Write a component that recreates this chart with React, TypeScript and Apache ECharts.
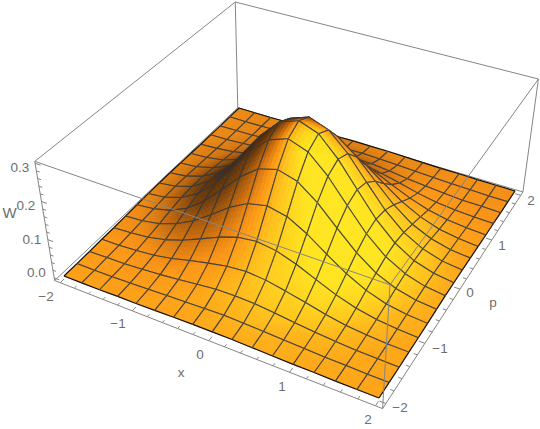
import React, { useEffect, useRef } from "react";
import * as echarts from "echarts";

// W(x, p); one row per p from -2 to 2, one column per x from -2 to 2, step 0.25
const rowPm200 = [0, 0, 0, 0.001, 0.001, 0.002, 0.003, 0.004, 0.004, 0.004, 0.003, 0.002, 0.001, 0.001, 0, 0, 0];
const rowPm175 = [0, 0, 0.001, 0.002, 0.004, 0.006, 0.008, 0.01, 0.011, 0.01, 0.008, 0.006, 0.004, 0.002, 0.001, 0, 0];
const rowPm150 = [0, 0.001, 0.002, 0.005, 0.009, 0.014, 0.02, 0.025, 0.026, 0.025, 0.02, 0.014, 0.009, 0.005, 0.002, 0.001, 0];
const rowPm125 = [0.001, 0.002, 0.005, 0.01, 0.019, 0.031, 0.042, 0.052, 0.056, 0.052, 0.042, 0.031, 0.019, 0.01, 0.005, 0.002, 0.001];
const rowPm100 = [0.001, 0.004, 0.009, 0.019, 0.035, 0.056, 0.078, 0.095, 0.102, 0.095, 0.078, 0.056, 0.035, 0.019, 0.009, 0.004, 0.001];
const rowPm075 = [0.002, 0.006, 0.014, 0.031, 0.056, 0.089, 0.125, 0.153, 0.164, 0.153, 0.125, 0.089, 0.056, 0.031, 0.014, 0.006, 0.002];
const rowPm050 = [0.003, 0.008, 0.02, 0.042, 0.078, 0.125, 0.175, 0.214, 0.229, 0.214, 0.175, 0.125, 0.078, 0.042, 0.02, 0.008, 0.003];
const rowPm025 = [0.004, 0.01, 0.025, 0.052, 0.095, 0.153, 0.214, 0.262, 0.281, 0.262, 0.214, 0.153, 0.095, 0.052, 0.025, 0.01, 0.004];
const rowP000 = [0.004, 0.011, 0.026, 0.056, 0.102, 0.164, 0.229, 0.281, 0.3, 0.281, 0.229, 0.164, 0.102, 0.056, 0.026, 0.011, 0.004];
const rowP025 = [0.004, 0.01, 0.025, 0.052, 0.095, 0.153, 0.214, 0.262, 0.281, 0.262, 0.214, 0.153, 0.095, 0.052, 0.025, 0.01, 0.004];
const rowP050 = [0.003, 0.008, 0.02, 0.042, 0.078, 0.125, 0.175, 0.214, 0.229, 0.214, 0.175, 0.125, 0.078, 0.042, 0.02, 0.008, 0.003];
const rowP075 = [0.002, 0.006, 0.014, 0.031, 0.056, 0.089, 0.125, 0.153, 0.164, 0.153, 0.125, 0.089, 0.056, 0.031, 0.014, 0.006, 0.002];
const rowP100 = [0.001, 0.004, 0.009, 0.019, 0.035, 0.056, 0.078, 0.095, 0.102, 0.095, 0.078, 0.056, 0.035, 0.019, 0.009, 0.004, 0.001];
const rowP125 = [0.001, 0.002, 0.005, 0.01, 0.019, 0.031, 0.042, 0.052, 0.056, 0.052, 0.042, 0.031, 0.019, 0.01, 0.005, 0.002, 0.001];
const rowP150 = [0, 0.001, 0.002, 0.005, 0.009, 0.014, 0.02, 0.025, 0.026, 0.025, 0.02, 0.014, 0.009, 0.005, 0.002, 0.001, 0];
const rowP175 = [0, 0, 0.001, 0.002, 0.004, 0.006, 0.008, 0.01, 0.011, 0.01, 0.008, 0.006, 0.004, 0.002, 0.001, 0, 0];
const rowP200 = [0, 0, 0, 0.001, 0.001, 0.002, 0.003, 0.004, 0.004, 0.004, 0.003, 0.002, 0.001, 0.001, 0, 0, 0];
const wRows = [rowPm200, rowPm175, rowPm150, rowPm125, rowPm100, rowPm075, rowPm050, rowPm025, rowP000, rowP025, rowP050, rowP075, rowP100, rowP125, rowP150, rowP175, rowP200];

const xTickLabels = ["\u22122", "\u22121", "0", "1", "2"];
const pTickLabels = ["\u22122", "\u22121", "0", "1", "2"];
const wTickLabels = ["0.0", "0.1", "0.2", "0.3"];

// Layout: label anchors on the page
const xLabelPos = [[46, 296], [118, 323], [200, 354], [282, 386], [368, 419]];
const pLabelPos = [[400, 407], [440, 348], [470, 292], [502, 245], [531, 200]];
const wLabelPos = [[36.5, 272], [32, 239], [26, 205], [20, 167]];

// Camera: unit-square homography of the z=0 plane and the image of the z axis at the corners
const H = { a: 273.3, b: 221.7, c: 64, d: 78.2, e: -146.9, f: 276, g: -0.11, h: 0.1955 };
const zVec = { A: [-19, -119], B: [7, -123.5], C: [15, -113], D: [-2.5, -106] };
const Z_MIN = -0.007;
const Z_MAX = 0.305;
const PAD = 0.02;
const PAD_BACK = 0.012;
const zSpan = 0.312;

function project(u: number, v: number, z: number): number[] {
  const den = H.g * u + H.h * v + 1;
  const bx = (H.a * u + H.b * v + H.c) / den;
  const by = (H.d * u + H.e * v + H.f) / den;
  const mix = (k: number) =>
    (1 - u) * (1 - v) * zVec.A[k] + u * (1 - v) * zVec.B[k] + u * v * zVec.C[k] + (1 - u) * v * zVec.D[k];
  return [bx + (mix(0) * z) / zSpan, by + (mix(1) * z) / zSpan];
}

const N = 16;
const SUB = 5;
const cr = (a: number, b: number, c: number, d: number, t: number) =>
  0.5 * (2 * b + (c - a) * t + (2 * a - 5 * b + 4 * c - d) * t * t + (3 * b - a - 3 * c + d) * t * t * t);
const at = (j: number, i: number) => wRows[Math.max(0, Math.min(N, j))][Math.max(0, Math.min(N, i))];
// smooth surface used for the shading only
function smooth(fi: number, fj: number): number {
  const i = Math.min(N - 1, Math.floor(fi));
  const j = Math.min(N - 1, Math.floor(fj));
  const s = fi - i;
  const t = fj - j;
  const row = (jj: number) => cr(at(jj, i - 1), at(jj, i), at(jj, i + 1), at(jj, i + 2), s);
  return cr(row(j - 1), row(j), row(j + 1), row(j + 2), t);
}
// faceted surface used for the geometry
function facet(fi: number, fj: number): number {
  const i = Math.min(N - 1, Math.floor(fi));
  const j = Math.min(N - 1, Math.floor(fj));
  const s = fi - i;
  const t = fj - j;
  return (1 - s) * (1 - t) * at(j, i) + s * (1 - t) * at(j, i + 1) + s * t * at(j + 1, i + 1) + (1 - s) * t * at(j + 1, i);
}

const VR = [0.879, 0.476, 0];
const VU = [-0.276, 0.51, 0.791];
const VW = [0.377, -0.696, 0.58];
const LIGHT = [0.45, 0.05, 0.89];
const stops: number[][] = [
  [-0.2, 75, 38, 6],
  [0.1, 115, 62, 10],
  [0.35, 195, 104, 13],
  [0.556, 252, 150, 22],
  [0.75, 255, 195, 28],
  [0.93, 255, 228, 32],
  [1.1, 255, 232, 34],
];
function shade(fi: number, fj: number): number {
  const h = 0.5;
  const zs = 0.4 / zSpan;
  const ia = Math.max(0, fi - h);
  const ib = Math.min(N, fi + h);
  const ja = Math.max(0, fj - h);
  const jb = Math.min(N, fj + h);
  const du = ((smooth(ib, fj) - smooth(ia, fj)) / ((ib - ia) / N)) * zs;
  const dv = ((smooth(fi, jb) - smooth(fi, ja)) / ((jb - ja) / N)) * zs;
  const len = Math.hypot(du, dv, 1);
  const n = [-du / len, -dv / len, 1 / len];
  const dot = (m: number[]) => m[0] * n[0] + m[1] * n[1] + m[2] * n[2];
  const gradient = 0.1 * (0.5 - fj / N) + 0.03 * (fi / N - 0.5);
  return dot(VR) * LIGHT[0] + dot(VU) * LIGHT[1] + dot(VW) * LIGHT[2] + gradient;
}
function ramp(b: number): string {
  let k = 0;
  while (k < stops.length - 2 && b > stops[k + 1][0]) k++;
  const p = stops[k];
  const q = stops[k + 1];
  const t = Math.max(0, Math.min(1, (b - p[0]) / (q[0] - p[0])));
  const c = [1, 2, 3].map((m) => Math.round(p[m] + (q[m] - p[m]) * t));
  return `rgb(${c[0]},${c[1]},${c[2]})`;
}

// fine lattice of the surface, built from wRows
const M = N * SUB;
const pts: number[][][] = [];
const bri: number[][] = [];
const hts: number[][] = [];
for (let j = 0; j <= M; j++) {
  pts.push([]);
  bri.push([]);
  hts.push([]);
  for (let i = 0; i <= M; i++) {
    const z = facet(i / SUB, j / SUB);
    hts[j].push(z);
    pts[j].push(project(i / M, j / M, z));
    bri[j].push(shade(i / SUB, j / SUB));
  }
}
const depth = (i: number, j: number) => VW[0] * (i / M) + VW[1] * (j / M) + VW[2] * (hts[j][i] * 0.4 / zSpan);

const cells: number[][] = [];
for (let j = 0; j < N; j++) for (let i = 0; i < N; i++) cells.push([i, j]);
const MID = Math.floor(SUB / 2);
cells.sort((a, b) => depth(a[0] * SUB + MID, a[1] * SUB + MID) - depth(b[0] * SUB + MID, b[1] * SUB + MID));

const MESH = "#33373c";
const LINE = "#858585";

function renderCell(_: any, api: any) {
  const ci = api.value(0);
  const cj = api.value(1);
  const i0 = ci * SUB;
  const j0 = cj * SUB;
  const quads: number[][] = [];
  for (let s = 0; s < SUB; s++) for (let t = 0; t < SUB; t++) quads.push([i0 + s, j0 + t]);
  quads.sort((a, b) => depth(a[0], a[1]) - depth(b[0], b[1]));
  const children: any[] = quads.map(([i, j]) => {
    const fill = ramp((bri[j][i] + bri[j][i + 1] + bri[j + 1][i] + bri[j + 1][i + 1]) / 4);
    return {
      type: "polygon",
      shape: { points: [pts[j][i], pts[j][i + 1], pts[j + 1][i + 1], pts[j + 1][i]].map((q) => api.coord(q)) },
      style: { fill, stroke: fill, lineWidth: 0.7 },
    };
  });
  const edge = (a: number[], b: number[], black: boolean) => {
    const p = api.coord(pts[a[1]][a[0]]);
    const q = api.coord(pts[b[1]][b[0]]);
    return {
      type: "line",
      shape: { x1: p[0], y1: p[1], x2: q[0], y2: q[1] },
      style: { fill: "none", stroke: black ? "#111111" : MESH, lineWidth: black ? 1.2 : 1.05, opacity: black ? 1 : 0.9 },
    };
  };
  children.push(edge([i0, j0], [i0 + SUB, j0], cj === 0));
  children.push(edge([i0, j0 + SUB], [i0 + SUB, j0 + SUB], cj === N - 1));
  children.push(edge([i0, j0], [i0, j0 + SUB], ci === 0));
  children.push(edge([i0 + SUB, j0], [i0 + SUB, j0 + SUB], ci === N - 1));
  return { type: "group", children };
}

// box corners in (u, v, z)
const lo = -PAD;
const hi = 1 + PAD;
const dLo = -PAD_BACK;
const dHi = 1 + PAD_BACK;
const corner: Record<string, number[]> = {
  A0: [lo, lo, Z_MIN], B0: [hi, lo, Z_MIN], C0: [hi, hi, Z_MIN], D0: [dLo, dHi, Z_MIN],
  A1: [lo, lo, Z_MAX], B1: [hi, lo, Z_MAX], C1: [hi, hi, Z_MAX], D1: [dLo, dHi, Z_MAX],
};
const backEdges = [["A0", "D0"], ["D0", "C0"], ["A0", "A1"], ["D0", "D1"], ["C0", "C1"], ["A1", "D1"], ["D1", "C1"]];
const frontEdges = [["A0", "B0"], ["B0", "C0"], ["B0", "B1"], ["A1", "B1"], ["B1", "C1"]];

const axisTicks = [-2, -1.8, -1.6, -1.4, -1.2, -1, -0.8, -0.6, -0.4, -0.2, 0, 0.2, 0.4, 0.6, 0.8, 1, 1.2, 1.4, 1.6, 1.8, 2];
const wTicks = [0, 0.02, 0.04, 0.06, 0.08, 0.1, 0.12, 0.14, 0.16, 0.18, 0.2, 0.22, 0.24, 0.26, 0.28, 0.3];

type Seg = number[][];
const toSeg = (a: number[], b: number[]): Seg => [project(a[0], a[1], a[2]), project(b[0], b[1], b[2])];
const backSegs: Seg[] = backEdges.map(([a, b]) => toSeg(corner[a], corner[b]));
const frontSegs: Seg[] = frontEdges.map(([a, b]) => toSeg(corner[a], corner[b]));
axisTicks.forEach((t) => {
  const len = Math.abs(t - Math.round(t)) < 1e-6 ? 0.018 : 0.011;
  const s = (t + 2) / 4;
  frontSegs.push(toSeg([s, lo, Z_MIN], [s, lo + len, Z_MIN]));
  frontSegs.push(toSeg([hi, s, Z_MIN], [hi - len, s, Z_MIN]));
});
wTicks.forEach((t, k) => {
  const len = k % 5 === 0 ? 0.018 : 0.011;
  backSegs.push(toSeg([lo, lo, t], [lo + len, lo, t]));
});

function renderSeg(list: Seg[]) {
  return (_: any, api: any) => {
    const s = list[api.value(0)];
    const a = api.coord(s[0]);
    const b = api.coord(s[1]);
    return {
      type: "line",
      shape: { x1: a[0], y1: a[1], x2: b[0], y2: b[1] },
      style: { stroke: LINE, lineWidth: 1, fill: "none" },
    };
  };
}

const text = (s: string, pos: number[], size = 13.5) => ({
  type: "text",
  x: pos[0],
  y: pos[1],
  silent: true,
  style: {
    text: s,
    fill: "#6e6e6e",
    font: `${size}px "Liberation Sans", Arial, sans-serif`,
    align: "center",
    verticalAlign: "middle",
  },
});

export default function App() {
  const ref = useRef<HTMLDivElement>(null);
  useEffect(() => {
    document.body.style.margin = "0";
    const chart = echarts.init(ref.current!, undefined, { renderer: "svg" });
    const idx = (list: Seg[]) => list.map((_, k) => [k]);
    chart.setOption({
      animation: false,
      backgroundColor: "#ffffff",
      grid: { left: 0, right: 0, top: 0, bottom: 0 },
      xAxis: { type: "value", min: 0, max: 540, show: false },
      yAxis: { type: "value", min: 0, max: 429, inverse: true, show: false },
      series: [
        { type: "custom", silent: true, clip: false, z: 1, data: idx(backSegs), renderItem: renderSeg(backSegs), encode: { x: 0 } },
        { type: "custom", silent: true, clip: false, z: 2, data: cells, renderItem: renderCell, encode: { x: 0, y: 1 } },
        { type: "custom", silent: true, clip: false, z: 3, data: idx(frontSegs), renderItem: renderSeg(frontSegs), encode: { x: 0 } },
      ],
      graphic: [
        ...xTickLabels.map((s, k) => text(s, xLabelPos[k])),
        ...pTickLabels.map((s, k) => text(s, pLabelPos[k])),
        ...wTickLabels.map((s, k) => text(s, wLabelPos[k])),
        text("x", [181, 372]),
        text("p", [493, 302]),
        text("W", [9.5, 212], 15),
      ],
    });
    return () => chart.dispose();
  }, []);
  return <div ref={ref} style={{ width: 540, height: 429 }} />;
}
